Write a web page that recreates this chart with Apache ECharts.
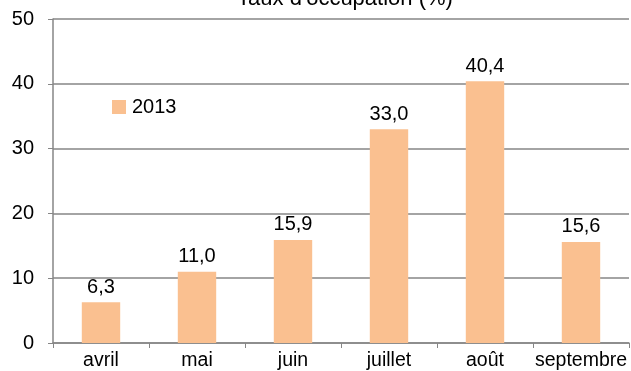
<!DOCTYPE html>
<html>
<head>
<meta charset="utf-8">
<script src="https://cdn.jsdelivr.net/npm/echarts@6/dist/echarts.min.js"></script>
<style>
html,body{margin:0;padding:0;background:#fff;}
#chart{width:631px;height:371px;}
</style>
</head>
<body>
<div id="chart"></div>
<script>
// Monthly occupancy rate, 2013
const months = ['avril', 'mai', 'juin', 'juillet', 'août', 'septembre'];
const rate2013 = [6.3, 11.0, 15.9, 33.0, 40.4, 15.6];
const yTicks = { min: 0, max: 50, interval: 10 };

const font = 'Liberation Sans, Arial, sans-serif';
const chart = echarts.init(document.getElementById('chart'), null, { renderer: 'canvas' });
chart.setOption({
  animation: false,
  title: {
    text: "Taux d'occupation (%)",
    left: 340, textAlign: 'center', top: -17,
    textStyle: { fontFamily: font, fontSize: 22, fontWeight: 'normal', color: '#000' }
  },
  legend: {
    left: 107, top: 92,
    itemWidth: 14, itemHeight: 14, itemGap: 6,
    textStyle: { fontFamily: font, fontSize: 20, color: '#000', padding: [0, 0, 0, 1] },
    data: [{ name: '2013', icon: 'rect' }]
  },
  grid: { left: 53, right: 2, top: 19, bottom: 28 },
  xAxis: {
    type: 'category', data: months,
    axisLine: { lineStyle: { color: '#868686', width: 1.5 } },
    axisTick: { show: true, length: 5, lineStyle: { color: '#868686' } },
    axisLabel: { interval: 0, fontFamily: font, fontSize: 19.5, color: '#000', margin: 8 }
  },
  yAxis: {
    type: 'value', min: yTicks.min, max: yTicks.max, interval: yTicks.interval,
    axisLine: { show: true, lineStyle: { color: '#868686', width: 1.5 } },
    axisTick: { show: true, length: 5, lineStyle: { color: '#868686' } },
    splitLine: { show: true, lineStyle: { color: '#868686', width: 1.5 } },
    axisLabel: { fontFamily: font, fontSize: 20, color: '#000', margin: 19 }
  },
  series: [{
    name: '2013', type: 'bar', data: rate2013,
    barWidth: '40%',
    itemStyle: { color: '#FAC090' },
    label: {
      show: true, position: 'top', distance: 5,
      fontFamily: font, fontSize: 20, color: '#000',
      formatter: p => p.value.toFixed(1).replace('.', ',')
    }
  }]
});
</script>
</body>
</html>
